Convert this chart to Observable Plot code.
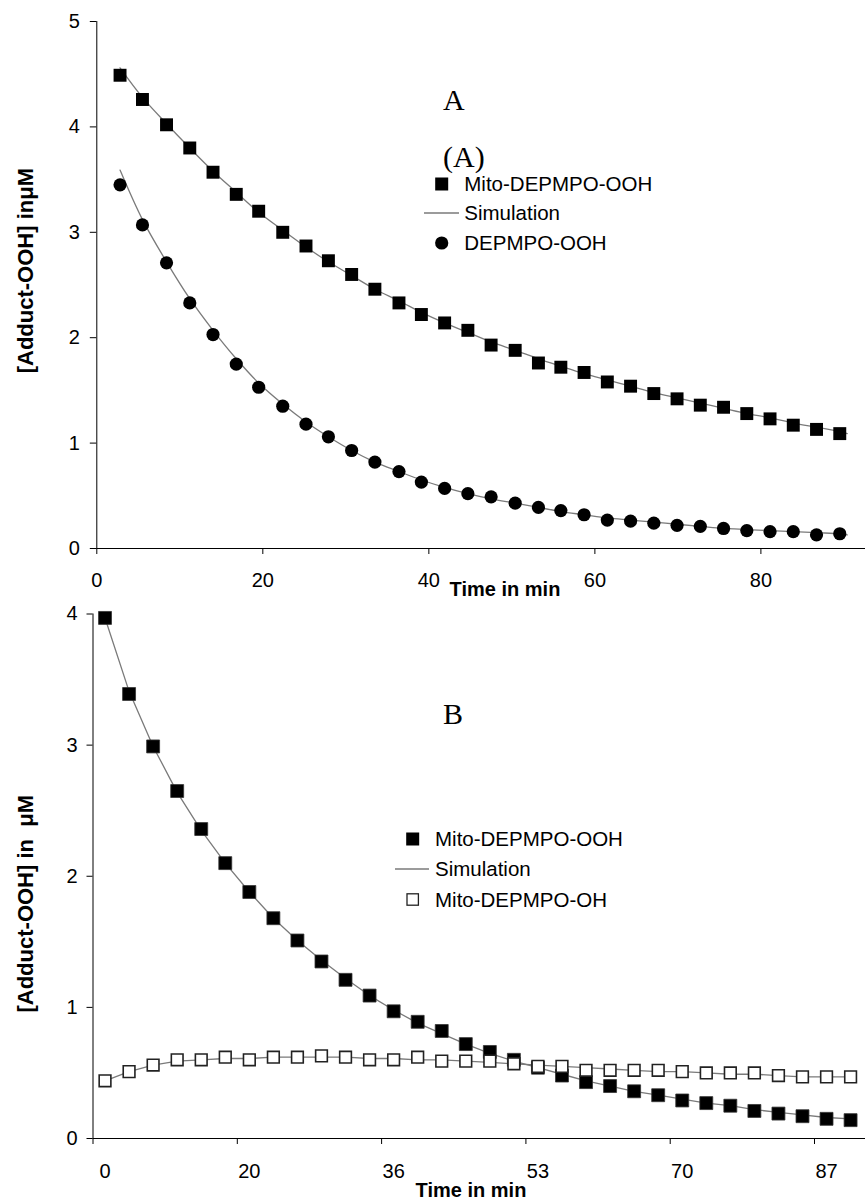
<!DOCTYPE html>
<html>
<head>
<meta charset="utf-8">
<script src="https://cdn.jsdelivr.net/npm/d3@7"></script>
<script src="https://cdn.jsdelivr.net/npm/@observablehq/plot@0.6"></script>
<style>
  html, body { margin: 0; padding: 0; background: white; }
  #wrap { position: relative; width: 865px; height: 1201px; overflow: hidden; background: white; }
  #wrap > svg { position: absolute; left: 0; }
  #overlay { position: absolute; left: 0; top: 0; pointer-events: none; }
  .sans { font-family: "Liberation Sans", Arial, Helvetica, sans-serif; }
  .serif { font-family: "Liberation Serif", "Times New Roman", serif; }
</style>
</head>
<body>
<div id="wrap"></div>
<script>
// ---------- Panel A data ----------
const timeA = [2.8, 5.5, 8.4, 11.2, 14.0, 16.8, 19.5, 22.4, 25.2, 27.9, 30.7, 33.5, 36.4, 39.1, 41.9, 44.7,
               47.5, 50.4, 53.2, 55.9, 58.7, 61.5, 64.3, 67.1, 69.9, 72.7, 75.5, 78.3, 81.1, 83.9, 86.7, 89.5];
const mitoOOH_A = [4.49, 4.26, 4.02, 3.80, 3.57, 3.36, 3.20, 3.00, 2.87, 2.73, 2.60, 2.46, 2.33, 2.22, 2.14, 2.07,
                   1.93, 1.88, 1.76, 1.72, 1.67, 1.58, 1.54, 1.47, 1.42, 1.36, 1.34, 1.28, 1.23, 1.17, 1.13, 1.09];
const depmpoOOH_A = [3.45, 3.07, 2.71, 2.33, 2.03, 1.75, 1.53, 1.35, 1.18, 1.06, 0.93, 0.82, 0.73, 0.63, 0.57, 0.52,
                     0.49, 0.43, 0.39, 0.36, 0.32, 0.27, 0.26, 0.24, 0.22, 0.21, 0.19, 0.17, 0.16, 0.16, 0.13, 0.14];
const simTimeA = [2.8, 5.5, 8.4, 11.2, 14.0, 16.8, 19.5, 22.4, 25.2, 27.9, 30.7, 33.5, 36.4, 39.1, 41.9, 44.7,
                  47.5, 50.4, 53.2, 55.9, 58.7, 61.5, 64.3, 67.1, 69.9, 72.7, 75.5, 78.3, 81.1, 83.9, 86.7, 89.5, 90.4];
const simMito_A = [4.56, 4.28, 4.03, 3.80, 3.58, 3.38, 3.19, 3.02, 2.86, 2.72, 2.59, 2.46, 2.35, 2.24, 2.14, 2.05,
                   1.96, 1.88, 1.80, 1.73, 1.66, 1.60, 1.54, 1.48, 1.43, 1.38, 1.33, 1.28, 1.24, 1.19, 1.15, 1.11, 1.09];
const simDep_A = [3.59, 3.12, 2.72, 2.37, 2.07, 1.80, 1.57, 1.37, 1.20, 1.06, 0.93, 0.82, 0.73, 0.65, 0.58, 0.52,
                  0.47, 0.43, 0.39, 0.35, 0.32, 0.29, 0.27, 0.25, 0.23, 0.21, 0.19, 0.18, 0.17, 0.16, 0.15, 0.14, 0.13];
const ticksXA = [0, 20, 40, 60, 80];
const ticksYA = [0, 1, 2, 3, 4, 5];

// ---------- Panel B data (category axis, 32 samples) ----------
const mitoOOH_B = [3.97, 3.39, 2.99, 2.65, 2.36, 2.10, 1.88, 1.68, 1.51, 1.35, 1.21, 1.09, 0.97, 0.89, 0.82, 0.72,
                   0.66, 0.60, 0.54, 0.48, 0.43, 0.40, 0.36, 0.33, 0.29, 0.27, 0.25, 0.21, 0.19, 0.17, 0.15, 0.14];
const mitoOH_B = [0.44, 0.51, 0.56, 0.60, 0.60, 0.62, 0.60, 0.62, 0.62, 0.63, 0.62, 0.60, 0.60, 0.62, 0.59, 0.59,
                  0.59, 0.57, 0.55, 0.55, 0.52, 0.52, 0.52, 0.52, 0.51, 0.50, 0.50, 0.50, 0.48, 0.47, 0.47, 0.47];
const simOOH_B = [3.97, 3.41, 2.99, 2.64, 2.35, 2.10, 1.88, 1.68, 1.51, 1.36, 1.22, 1.09, 0.98, 0.88, 0.80, 0.72,
                  0.65, 0.59, 0.54, 0.49, 0.44, 0.40, 0.36, 0.33, 0.30, 0.27, 0.25, 0.22, 0.20, 0.18, 0.16, 0.15];
const simOH_B = [0.44, 0.51, 0.56, 0.59, 0.60, 0.61, 0.61, 0.62, 0.62, 0.62, 0.62, 0.61, 0.61, 0.60, 0.60, 0.59,
                 0.58, 0.57, 0.56, 0.55, 0.54, 0.53, 0.52, 0.51, 0.51, 0.50, 0.49, 0.49, 0.48, 0.47, 0.47, 0.47];
const tickBoundsB = [-0.5, 5.5, 11.5, 17.5, 23.5, 29.5];
const labelPosB = [0, 6, 12, 18, 24, 30];
const tickLabelsB = ["0", "20", "36", "53", "70", "87"];
const ticksYB = [0, 1, 2, 3, 4];

const FONT = '"Liberation Sans", Arial, Helvetica, sans-serif';
const GRAY = "#7a7a7a";
const intFmt = d => String(d);

// ---------- Build panel A ----------
const ptsMitoA = timeA.map((t, i) => ({t, v: mitoOOH_A[i]}));
const ptsDepA = timeA.map((t, i) => ({t, v: depmpoOOH_A[i]}));
const simMA = simTimeA.map((t, i) => ({t, v: simMito_A[i]}));
const simDA = simTimeA.map((t, i) => ({t, v: simDep_A[i]}));

const plotA = Plot.plot({
  width: 865, height: 600,
  marginLeft: 96.3, marginRight: 0, marginTop: 21, marginBottom: 52,
  style: {fontFamily: FONT, fontSize: "20px", color: "black", background: "white", overflow: "visible"},
  x: {domain: [0, 92.6]},
  y: {domain: [0, 5]},
  marks: [
    Plot.axisX(ticksXA, {tickSize: 6, tickPadding: 18.5, label: null, fontSize: 20, tickFormat: intFmt}),
    Plot.axisY(ticksYA, {tickSize: 6.5, tickPadding: 10.5, label: null, fontSize: 20, tickFormat: intFmt}),
    Plot.ruleY([0], {stroke: "black", strokeWidth: 1}),
    Plot.ruleX([0], {stroke: "black", strokeWidth: 1}),
    Plot.line(simMA, {x: "t", y: "v", stroke: GRAY, strokeWidth: 1.3, curve: "catmull-rom"}),
    Plot.line(simDA, {x: "t", y: "v", stroke: GRAY, strokeWidth: 1.3, curve: "catmull-rom"}),
    Plot.dot(ptsMitoA, {x: "t", y: "v", symbol: "square", r: 7.3, fill: "black", stroke: "none"}),
    Plot.dot(ptsDepA, {x: "t", y: "v", symbol: "circle", r: 6.6, fill: "black", stroke: "none"})
  ]
});
plotA.style.top = "0px";

// ---------- Build panel B ----------
const ptsOOHB = mitoOOH_B.map((v, i) => ({i, v}));
const ptsOHB = mitoOH_B.map((v, i) => ({i, v}));
const simOOHB = simOOH_B.map((v, i) => ({i, v}));
const simOHB = simOH_B.map((v, i) => ({i, v}));

const plotB = Plot.plot({
  width: 865, height: 601,
  marginLeft: 92.5, marginRight: 0, marginTop: 13.5, marginBottom: 63,
  style: {fontFamily: FONT, fontSize: "20px", color: "black", background: "white", overflow: "visible"},
  x: {domain: [-0.5, 31.62]},
  y: {domain: [0, 4]},
  marks: [
    Plot.axisX(tickBoundsB, {tickSize: 6, tickFormat: () => "", label: null}),
    Plot.axisX(labelPosB, {tickSize: 0, tickPadding: 25.5, label: null, fontSize: 20,
      tickFormat: d => tickLabelsB[labelPosB.indexOf(d)]}),
    Plot.axisY(ticksYB, {tickSize: 6, tickPadding: 9.5, label: null, fontSize: 20, tickFormat: intFmt}),
    Plot.ruleY([0], {stroke: "black", strokeWidth: 1}),
    Plot.ruleX([-0.5], {stroke: "black", strokeWidth: 1}),
    Plot.line(simOHB, {x: "i", y: "v", stroke: GRAY, strokeWidth: 1.3}),
    Plot.line(simOOHB, {x: "i", y: "v", stroke: GRAY, strokeWidth: 1.3}),
    Plot.dot(ptsOOHB, {x: "i", y: "v", symbol: "square", r: 7.3, fill: "black", stroke: "#333", strokeWidth: 0.8}),
    Plot.dot(ptsOHB, {x: "i", y: "v", symbol: "square", r: 6.6, fill: "white", stroke: "#222", strokeWidth: 1.6})
  ]
});
plotB.style.top = "600px";

const wrap = document.getElementById("wrap");
wrap.appendChild(plotA);
wrap.appendChild(plotB);

// ---------- Annotations & legends (overlay) ----------
const ov = d3.select(wrap).append("svg")
  .attr("id", "overlay").attr("width", 865).attr("height", 1201);

function txt(x, y, s, cls, size, opts = {}) {
  const t = ov.append("text").attr("x", x).attr("y", y).attr("class", cls)
    .style("font-size", size + "px").attr("fill", "black").style("white-space", "pre").text(s);
  if (opts.bold) t.style("font-weight", "bold");
  if (opts.anchor) t.attr("text-anchor", opts.anchor);
  if (opts.rotate) t.attr("transform", `rotate(-90 ${x} ${y})`);
  return t;
}

// Panel labels
txt(443, 110, "A", "serif", 30);
txt(443, 167, "(A)", "serif", 30);
txt(443, 724, "B", "serif", 30);

// Legend A
const legA = [
  {kind: "square", label: "Mito-DEPMPO-OOH", cy: 184},
  {kind: "line", label: "Simulation", cy: 213},
  {kind: "circle", label: "DEPMPO-OOH", cy: 243}
];
legA.forEach(d => {
  if (d.kind === "square") ov.append("rect").attr("x", 435.2).attr("y", d.cy - 6.5).attr("width", 13).attr("height", 13).attr("fill", "black");
  if (d.kind === "circle") ov.append("circle").attr("cx", 441.7).attr("cy", d.cy).attr("r", 6.6).attr("fill", "black");
  if (d.kind === "line") ov.append("line").attr("x1", 424).attr("x2", 459).attr("y1", d.cy).attr("y2", d.cy).attr("stroke", GRAY).attr("stroke-width", 1.3);
  txt(464.3, d.cy + 7, d.label, "sans", 20.5);
});

// Legend B
const legB = [
  {kind: "square", label: "Mito-DEPMPO-OOH", cy: 839},
  {kind: "line", label: "Simulation", cy: 869},
  {kind: "open", label: "Mito-DEPMPO-OH", cy: 899.5}
];
legB.forEach(d => {
  if (d.kind === "square") ov.append("rect").attr("x", 406.2).attr("y", d.cy - 6.5).attr("width", 13).attr("height", 13).attr("fill", "black");
  if (d.kind === "open") ov.append("rect").attr("x", 407).attr("y", d.cy - 5.7).attr("width", 11.4).attr("height", 11.4).attr("fill", "white").attr("stroke", "#222").attr("stroke-width", 1.3);
  if (d.kind === "line") ov.append("line").attr("x1", 395).attr("x2", 429).attr("y1", d.cy).attr("y2", d.cy).attr("stroke", GRAY).attr("stroke-width", 1.3);
  txt(435, d.cy + 7, d.label, "sans", 20.5);
});

// Axis titles
txt(33, 168, "[Adduct-OOH] in\u03BCM", "sans", 22, {bold: true, anchor: "end", rotate: true});
txt(33, 795, "[Adduct-OOH] in  \u03BCM", "sans", 22, {bold: true, anchor: "end", rotate: true});
txt(505, 596, "Time in min", "sans", 20, {bold: true, anchor: "middle"});
txt(471, 1196.5, "Time in min", "sans", 20, {bold: true, anchor: "middle"});
</script>
</body>
</html>
